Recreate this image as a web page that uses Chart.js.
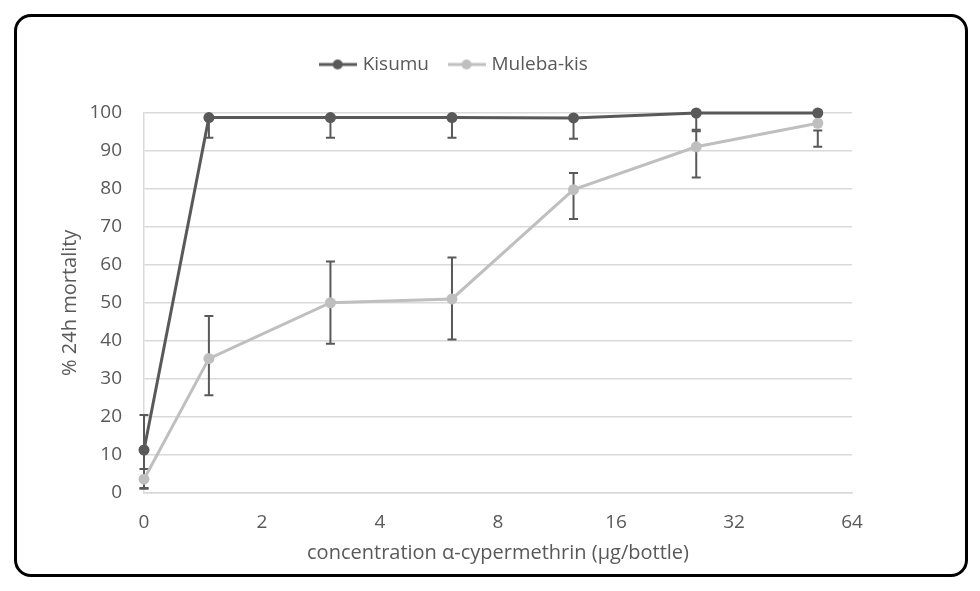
<!DOCTYPE html>
<html>
<head>
<meta charset="utf-8">
<script src="https://cdn.jsdelivr.net/npm/chart.js@4/dist/chart.umd.min.js"></script>
<style>
  html, body { margin: 0; padding: 0; background: #fff; }
  #frame {
    position: absolute; left: 14px; top: 14px; width: 954px; height: 563px;
    box-sizing: border-box; border: 3px solid #000; border-radius: 17px; background: #fff;
  }
  #chart { position: absolute; left: 0; top: 0; }
</style>
</head>
<body>
<div id="frame"></div>
<canvas id="chart" width="980" height="591"></canvas>
<script>
// ---- data ----
const xLabels    = ['0', '2', '4', '8', '16', '32', '64'];
// horizontal position of each measurement, in tick units (0 = "0", 6 = "64")
const xPos       = [0, 0.55, 1.58, 2.61, 3.64, 4.68, 5.71];

const kisumu     = [11.2, 98.8, 98.8, 98.8, 98.7, 100, 100];
const kisumuLow  = [1.2, 93.5, 93.5, 93.5, 93.2, 95.6, 100];
const kisumuHigh = [20.4, 98.8, 98.8, 98.8, 98.7, 100, 100];

const muleba     = [3.5, 35.3, 50.0, 51.0, 79.8, 91.1, 97.3];
const mulebaLow  = [1.0, 25.6, 39.2, 40.3, 72.1, 83.0, 91.1];
const mulebaHigh = [6.2, 46.5, 60.9, 61.9, 84.2, 95.2, 95.4];

const yTicks = [0, 10, 20, 30, 40, 50, 60, 70, 80, 90, 100];

const DARK  = '#595959';
const LIGHT = '#bfbfbf';
const GRID  = '#d9d9d9';
const TEXT  = '#595959';
const FONT  = "'Open Sans', sans-serif";

const toPoints = (ys) => ys.map((y, i) => ({ x: xPos[i], y }));

// legend marker: short line with a dot in the middle
function legendMarker(color) {
  const c = document.createElement('canvas');
  c.width = 38; c.height = 12;
  const g = c.getContext('2d');
  g.strokeStyle = color; g.lineWidth = 3;
  g.beginPath(); g.moveTo(0, 6); g.lineTo(38, 6); g.stroke();
  g.fillStyle = color;
  g.beginPath(); g.arc(19, 6, 5, 0, Math.PI * 2); g.fill();
  return c;
}

// error bars drawn under the markers, through the chart's own scales
const errorBars = {
  id: 'errorBars',
  beforeDatasetsDraw(chart) {
    const { ctx, scales: { x, y } } = chart;
    const sets = [[kisumuLow, kisumuHigh], [mulebaLow, mulebaHigh]];
    ctx.save();
    ctx.strokeStyle = DARK;
    ctx.lineWidth = 2;
    sets.forEach(([lo, hi]) => {
      xPos.forEach((xv, i) => {
        if (lo[i] === hi[i]) return;
        const px = x.getPixelForValue(xv);
        const y1 = y.getPixelForValue(lo[i]);
        const y2 = y.getPixelForValue(hi[i]);
        ctx.beginPath();
        ctx.moveTo(px, y1); ctx.lineTo(px, y2);
        ctx.moveTo(px - 4.5, y1); ctx.lineTo(px + 4.5, y1);
        ctx.moveTo(px - 4.5, y2); ctx.lineTo(px + 4.5, y2);
        ctx.stroke();
      });
    });
    ctx.restore();
  },
};

// extra room between legend and plot area
const legendGap = {
  id: 'legendGap',
  beforeInit(chart) {
    const fit = chart.legend.fit;
    chart.legend.fit = function () { fit.bind(chart.legend)(); this.height += 29; };
  },
};

new Chart(document.getElementById('chart'), {
  type: 'line',
  data: {
    datasets: [
      {
        label: 'Kisumu', data: toPoints(kisumu), order: 1,
        borderColor: DARK, backgroundColor: DARK, borderWidth: 3,
        pointRadius: 5.5, pointBackgroundColor: DARK, pointBorderWidth: 0,
        tension: 0, clip: false,
      },
      {
        label: 'Muleba-kis', data: toPoints(muleba), order: 0,
        borderColor: LIGHT, backgroundColor: LIGHT, borderWidth: 3,
        pointRadius: 5.5, pointBackgroundColor: LIGHT, pointBorderWidth: 0,
        tension: 0, clip: false,
      },
    ],
  },
  options: {
    responsive: false,
    animation: false,
    layout: { padding: { left: 58, right: 128, top: 33, bottom: 15 } },
    plugins: {
      tooltip: { enabled: false },
      legend: {
        position: 'top',
        labels: {
          color: TEXT, font: { family: FONT, size: 19 },
          usePointStyle: true, pointStyleWidth: 31, padding: 22,
          generateLabels: () => [
            { text: 'Kisumu', pointStyle: legendMarker(DARK), fontColor: TEXT, lineWidth: 0, hidden: false, datasetIndex: 0 },
            { text: 'Muleba-kis', pointStyle: legendMarker(LIGHT), fontColor: TEXT, lineWidth: 0, hidden: false, datasetIndex: 1 },
          ],
        },
      },
    },
    scales: {
      x: {
        type: 'linear', min: 0, max: xLabels.length - 1,
        afterBuildTicks: (s) => { s.ticks = xLabels.map((_, i) => ({ value: i })); },
        afterFit: (s) => { s.height = 83.5; },
        ticks: {
          color: TEXT, font: { family: FONT, size: 19 }, padding: 19,
          maxRotation: 0, autoSkip: false,
          callback: (v) => xLabels[v],
        },
        grid: { display: false, drawTicks: false },
        border: { display: true, color: GRID, width: 1.5 },
        title: {
          display: true, text: 'concentration α-cypermethrin (µg/bottle)',
          color: TEXT, font: { family: FONT, size: 20 }, padding: { top: 0, bottom: 11 },
        },
      },
      y: {
        min: 0, max: 100,
        afterBuildTicks: (s) => { s.ticks = yTicks.map((v) => ({ value: v })); },
        afterFit: (s) => { s.width = 86; },
        ticks: { color: TEXT, font: { family: FONT, size: 19 }, padding: 22 },
        grid: { color: GRID, lineWidth: 1.5, drawTicks: false },
        border: { display: true, color: GRID, width: 1.5 },
        title: {
          display: true, text: '% 24h mortality',
          color: TEXT, font: { family: FONT, size: 20 }, padding: 0,
        },
      },
    },
  },
  plugins: [errorBars, legendGap],
});
</script>
</body>
</html>
